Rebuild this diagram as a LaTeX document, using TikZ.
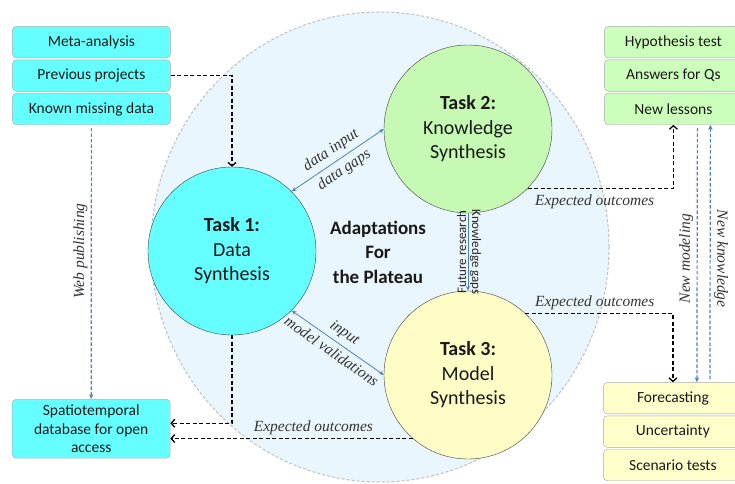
\documentclass[tikz,border=0pt]{standalone}
\usepackage{fontspec}
\setmainfont{Carlito}
\newfontfamily\notefont{Liberation Serif}
\usetikzlibrary{matrix,arrows.meta}

\definecolor{boxcyan}{HTML}{66FFFF}
\definecolor{boxgreen}{HTML}{CCFFBB}
\definecolor{boxyellow}{HTML}{FFFFCC}
\definecolor{taskgreen}{HTML}{C6FAB4}
\definecolor{taskyellow}{HTML}{FFFDC6}
\definecolor{plateau}{HTML}{EAF6FD}
\definecolor{linkblue}{HTML}{4F81BD}

\begin{document}
\begin{tikzpicture}[x=1pt, y=-1pt,
    box/.style={draw=black!35, rounded corners=4pt, minimum width=158pt, minimum height=31.5pt, inner sep=2pt, text=black!90, font=\fontsize{15.5}{18.5}\selectfont},
    stack/.style={matrix of nodes, inner sep=0pt, row sep=1.5pt, anchor=north west, nodes={box}},
    tasknode/.style={circle, draw=black!75, minimum size=168pt, inner sep=0pt, align=center, text=black!90, font=\fontsize{20}{24.5}\selectfont},
    flowline/.style={line width=1.3pt, dash pattern=on 4pt off 2.5pt, -{Straight Barb[length=3.5pt, width=8pt]}},
    bluedash/.style={draw=linkblue, line width=1.2pt, dash pattern=on 3.5pt off 2pt, shorten <=3pt, -{Stealth[length=5pt, width=4.5pt]}},
    bluelink/.style={draw=linkblue, line width=0.8pt, {Stealth[length=5pt, width=4pt]}-{Stealth[length=5pt, width=4pt]}},
    italabel/.style={text=black!80, font=\notefont\itshape\fontsize{15.5}{18}\selectfont},
    smalllabel/.style={text=black!85, inner sep=1.5pt, font=\fontsize{13}{15}\selectfont}]

    \useasboundingbox (0,0) rectangle (735,483);

    \draw[fill=plateau, draw=black!25, line width=1pt, dash pattern=on 3pt off 2pt] (380,247) ellipse [x radius=229pt, y radius=235pt];

    \node[tasknode, fill=boxcyan] (t1) at (232,251) {\textbf{Task 1:}\\Data\\Synthesis};
    \node[tasknode, fill=taskgreen] (t2) at (468,129) {\textbf{Task 2:}\\Knowledge\\Synthesis};
    \node[tasknode, fill=taskyellow] (t3) at (468,375) {\textbf{Task 3:}\\Model\\Synthesis};
    \node[align=center, text=black!90, font=\bfseries\fontsize{19}{24.5}\selectfont] (adapt) at (378,252) {Adaptations\\For\\the Plateau};

    \matrix[stack, nodes={fill=boxcyan}] (sources) at (12,26) {
    Meta-analysis \\
    Previous projects \\
    Known missing data \\};

    \matrix[stack, nodes={fill=boxgreen, minimum width=138pt}] (outcomes) at (604,26) {
    Hypothesis test \\
    Answers for Qs \\
    New lessons \\};

    \matrix[stack, nodes={fill=boxyellow, minimum width=139pt}] (forecasts) at (603,382) {
    Forecasting \\
    Uncertainty \\
    Scenario tests \\};

    \node[box, fill=boxcyan, minimum height=59pt, align=center, anchor=north west] (db) at (12,399) {Spatiotemporal\\database for open\\access};

    \draw[flowline] (sources-2-1.east) -| (t1.north);
    \draw[flowline] (t1.south) |- ([yshift=5.5pt]db.east);
    \draw[flowline] (t3.229) -- (t3.229 -| db.east) node[italabel, pos=0.41, above] {Expected outcomes};
    \draw[flowline] (t2.-45) -| (outcomes-3-1.south) node[italabel, pos=0.23, below=2pt] {Expected outcomes};
    \draw[flowline] (t3.47) -| (forecasts-1-1.north) node[italabel, pos=0.235, above] {Expected outcomes};

    \draw[bluedash] (sources-3-1.south) -- (db.north) node[italabel, pos=0.46, rotate=90, anchor=south] {Web publishing};
    \draw[bluedash] ([xshift=24pt]outcomes-3-1.south) -- ([xshift=24pt]forecasts-1-1.north) node[italabel, pos=0.52, rotate=90, anchor=south] {New modeling};
    \draw[bluedash] ([xshift=37pt]forecasts-1-1.north) -- ([xshift=37pt]outcomes-3-1.south) node[italabel, pos=0.48, rotate=-90, anchor=south] {New knowledge};

    \draw[bluelink] (t1.45) -- (t2.180) node[italabel, midway, sloped, above=1pt] {data input} node[italabel, midway, sloped, below=1pt] {data gaps};
    \draw[bluelink] (t1.-45) -- (t3.180) node[italabel, midway, sloped, above=1pt] {input} node[italabel, midway, sloped, below=1pt] {model validations};
    \draw[bluelink, {}-{Stealth[length=5pt, width=4pt]}] (t2.south) -- (t3.north) node[smalllabel, midway, rotate=90, anchor=south] {Future research} node[smalllabel, midway, rotate=-90, anchor=south] {Knowledge gaps};
    %
\end{tikzpicture}
\end{document}
